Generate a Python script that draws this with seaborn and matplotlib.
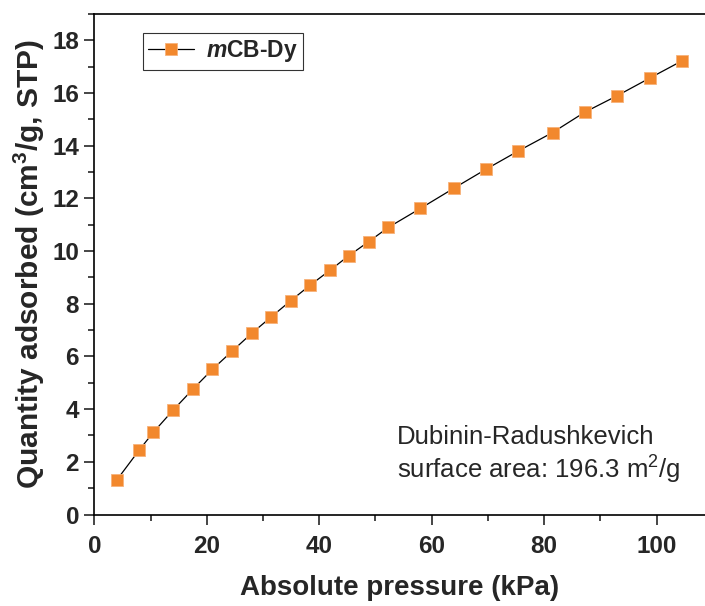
import matplotlib
matplotlib.use("Agg")
import matplotlib.pyplot as plt
import seaborn as sns
import pandas as pd
from matplotlib.ticker import MultipleLocator

pressure = [4.0, 8.0, 10.5, 14.05, 17.5, 21.0, 24.5, 28.0, 31.4, 34.9, 38.35, 41.9,
            45.3, 48.8, 52.3, 58.0, 63.9, 69.6, 75.4, 81.5, 87.2, 93.0, 98.8, 104.5]
quantity = [1.31, 2.45, 3.12, 3.97, 4.75, 5.51, 6.2, 6.88, 7.49, 8.11, 8.7, 9.27,
            9.83, 10.36, 10.9, 11.62, 12.38, 13.1, 13.8, 14.5, 15.27, 15.9, 16.57, 17.22]
series_label = r"$\mathit{m}$CB-Dy"
xticks = [0, 20, 40, 60, 80, 100]
yticks = [0, 2, 4, 6, 8, 10, 12, 14, 16, 18]

sns.set_style("ticks")
plt.rcParams['font.family'] = ['Liberation Sans', 'DejaVu Sans']
plt.rcParams['mathtext.fontset'] = 'custom'
plt.rcParams['mathtext.rm'] = 'Liberation Sans'
plt.rcParams['mathtext.it'] = 'Liberation Sans:italic:bold'
plt.rcParams['mathtext.bf'] = 'Liberation Sans:bold'

df = pd.DataFrame({"Pressure": pressure, "Quantity": quantity})

fig = plt.figure(figsize=(7.05, 6.06), dpi=100)
ax = fig.add_axes([94.3 / 705, 91.5 / 606, (705 - 94.3) / 705, 500.5 / 606])

sns.lineplot(data=df, x="Pressure", y="Quantity", ax=ax, color="black", linewidth=0.9,
             marker="s", markersize=8, markerfacecolor="#F2882D",
             markeredgecolor="#F7B27A", markeredgewidth=0.6, label=series_label)

ax.set_xlim(0, 108.6)
ax.set_ylim(0, 19)
ax.set_xticks(xticks)
ax.set_yticks(yticks)
ax.xaxis.set_minor_locator(MultipleLocator(10))
ax.yaxis.set_minor_locator(MultipleLocator(1))
ax.tick_params(which='major', direction='out', length=7, width=1.2, labelsize=17.5,
               top=False, right=False)
ax.tick_params(axis='x', which='major', pad=8)
ax.tick_params(axis='y', which='major', pad=4)
ax.tick_params(which='minor', direction='out', length=4.5, width=1.2, top=False, right=False)
for lab in ax.get_xticklabels() + ax.get_yticklabels():
    lab.set_fontweight('bold')
for s in ['left', 'bottom', 'top']:
    ax.spines[s].set_linewidth(1.2)
    ax.spines[s].set_color('black')
ax.spines['right'].set_visible(False)

ax.set_xlabel("Absolute pressure (kPa)", fontsize=20, fontweight='bold', labelpad=12)
ax.set_ylabel(r"Quantity adsorbed (cm$^\mathbf{3}$/g, STP)", fontsize=21.5, fontweight='bold', labelpad=4)

leg = ax.legend(loc='upper left', bbox_to_anchor=(0.079, 0.963), frameon=True, fancybox=False,
                prop={'weight': 'bold', 'size': 16.5}, handlelength=2.0, borderpad=0.25,
                handletextpad=0.5, borderaxespad=0)
leg.get_frame().set_edgecolor('black')
leg.get_frame().set_linewidth(0.8)

ax.text(0.495, 0.118, "Dubinin-Radushkevich\nsurface area: 196.3 m$^\\mathrm{2}$/g",
        transform=ax.transAxes, fontsize=18.5, ha='left', va='center', linespacing=1.2)

fig.savefig("out.png", dpi=100)
